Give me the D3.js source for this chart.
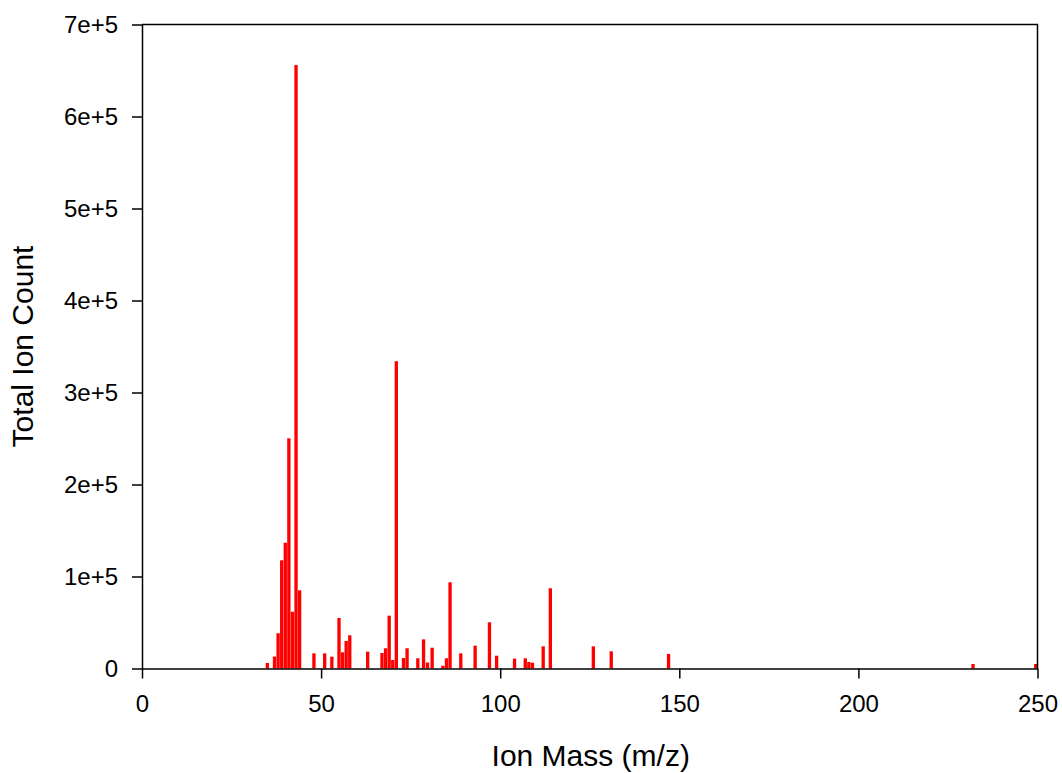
<!DOCTYPE html>
<html>
<head>
<meta charset="utf-8">
<script src="https://cdn.jsdelivr.net/npm/d3@7"></script>
<style>
  html, body { margin: 0; padding: 0; background: #fff; }
  svg { display: block; }
  text { font-family: "Liberation Sans", Arial, sans-serif; fill: #000; }
</style>
</head>
<body>
<svg id="chart" width="1062" height="773"></svg>
<script>
// ---- data ----
const masses = [35, 37, 38, 39, 40, 41, 42, 43, 44, 48, 51, 53, 55, 56, 57, 58, 63, 67, 68, 69, 70, 71, 73, 74, 77, 78.6, 79.7, 81, 84, 85, 86, 89, 93, 97, 99, 104, 107, 108, 109, 112, 114, 126, 131, 147, 232, 249.5];
const counts = [6000, 13000, 38300, 117600, 136700, 250200, 61700, 656000, 85000, 16500, 16500, 12800, 54900, 17600, 29900, 36100, 18300, 16800, 22000, 57400, 9200, 334000, 11400, 22000, 11100, 31700, 6500, 22600, 3000, 11100, 93700, 16500, 24800, 50200, 13900, 10700, 11100, 7100, 6300, 24100, 87200, 24100, 18700, 15800, 4900, 4900];
const xTicks = [0, 50, 100, 150, 200, 250];
const yTicks = [0, 100000, 200000, 300000, 400000, 500000, 600000, 700000];
const yTickLabels = ["0", "1e+5", "2e+5", "3e+5", "4e+5", "5e+5", "6e+5", "7e+5"];
const xTitle = "Ion Mass (m/z)";
const yTitle = "Total Ion Count";

(function () {
  // ---- layout ----
  const mL = 142, mR = 1037.5, mT = 24.5, mB = 668.5;
  const svg = d3.select("#chart");

  const x = d3.scaleLinear().domain([0, 250]).range([mL, mR]);
  const y = d3.scaleLinear().domain([0, 700000]).range([mB, mT]);
  const barW = x(0.93) - x(0);

  const data = masses.map((m, i) => ({ m, c: counts[i] }));

  // bars
  svg.append("g").selectAll("rect").data(data).join("rect")
    .attr("x", d => x(d.m) - barW / 2)
    .attr("y", d => y(d.c))
    .attr("width", barW)
    .attr("height", d => y(0) - y(d.c))
    .attr("fill", "#ff0000");

  // frame (top & right)
  svg.append("path")
    .attr("d", `M${mL},${mT}H${mR}V${mB}`)
    .attr("fill", "none").attr("stroke", "#000").attr("stroke-width", 1.5);

  // x axis
  const gx = svg.append("g").attr("transform", `translate(0,${mB})`)
    .call(d3.axisBottom(x).tickValues(xTicks).tickSize(10).tickPadding(16.5).tickSizeOuter(0));
  // y axis
  const gy = svg.append("g").attr("transform", `translate(${mL},0)`)
    .call(d3.axisLeft(y).tickValues(yTicks).tickSize(10).tickPadding(14).tickSizeOuter(0)
      .tickFormat((d, i) => yTickLabels[i]));

  [gx, gy].forEach(g => {
    g.select(".domain").attr("stroke", "#000").attr("stroke-width", 1.5);
    g.selectAll(".tick line").attr("stroke", "#000").attr("stroke-width", 1.5);
    g.selectAll(".tick text").attr("font-size", 24).attr("font-family", "Liberation Sans, Arial, sans-serif").attr("fill", "#000");
  });

  // titles
  svg.append("text")
    .attr("x", (mL + mR) / 2 + 1).attr("y", 766)
    .attr("text-anchor", "middle").attr("font-size", 30)
    .text(xTitle);
  svg.append("text")
    .attr("transform", `translate(33,${(mT + mB) / 2}) rotate(-90)`)
    .attr("text-anchor", "middle").attr("font-size", 30)
    .text(yTitle);
})();
</script>
</body>
</html>
